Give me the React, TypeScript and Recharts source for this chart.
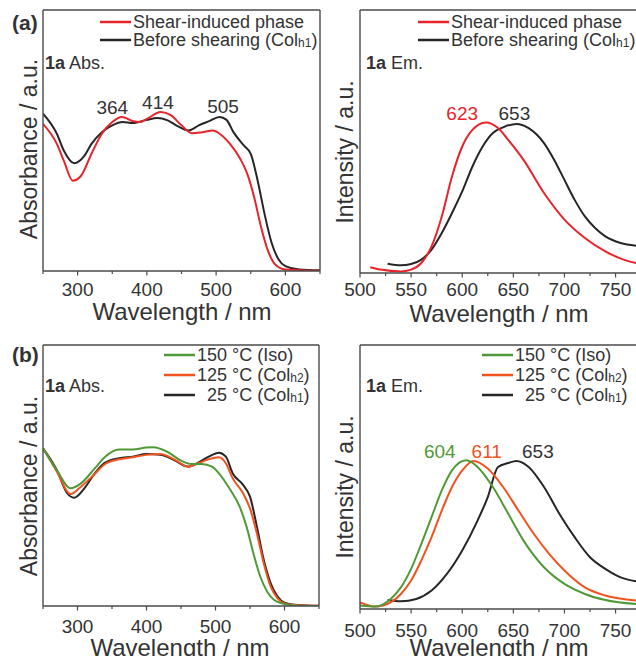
import React from "react";
import { LineChart, Line, XAxis, YAxis, ReferenceDot } from "recharts";

const FONT = '"Liberation Sans", Arial, Helvetica, sans-serif';
const INK = "#333333";
const AXC = "#4a4a4a";
const RED = "#e8232a";
const BLACK = "#262626";
const GREEN = "#4f9a36";
const ORANGE = "#f2521e";

type Pt = [number, number];

// (a) absorbance, wavelength nm -> relative absorbance (0-100 of panel height)
const absShear: Pt[] = [
  [250, 56.4], [270, 48.7], [280, 42.3], [293, 34.6], [305, 36.5], [320, 44.9], [335, 52.6],
  [350, 57.1], [364, 59.0], [380, 57.4], [390, 57.1], [400, 58.3], [420, 60.9], [435, 59.6],
  [450, 55.8], [465, 52.8], [480, 53.2], [495, 53.8], [505, 52.6], [520, 48.7], [535, 42.9],
  [545, 37.2], [555, 28.2], [565, 16.7], [575, 7.7], [585, 2.6], [600, 0.6], [620, 0.3], [650, 0.1],
];
const absBefore: Pt[] = [
  [250, 60.3], [270, 52.6], [280, 46.2], [295, 41.3], [310, 44.2], [320, 48.7], [335, 53.2],
  [350, 55.8], [365, 57.1], [380, 56.7], [400, 57.9], [415, 58.6], [430, 57.7], [445, 55.4],
  [460, 53.8], [475, 55.8], [490, 57.4], [505, 59.0], [515, 57.9], [525, 53.2], [540, 48.1],
  [550, 44.9], [560, 34.6], [570, 21.8], [580, 10.9], [590, 4.5], [600, 1.9], [620, 0.6], [650, 0.3],
];

// (a) emission
const emShear: Pt[] = [
  [510, 2.2], [520, 1.3], [540, 0.6], [550, 1.3], [560, 3.8], [570, 10.1], [580, 21.5],
  [590, 36.7], [600, 48.1], [610, 54.4], [623, 57.2], [635, 55.1], [645, 50.6], [660, 43.0],
  [680, 30.4], [700, 20.3], [720, 13.3], [740, 8.2], [760, 4.8], [770, 3.8],
];
const emBefore: Pt[] = [
  [527, 3.5], [540, 2.9], [550, 3.4], [560, 5.1], [570, 8.9], [580, 15.2], [590, 22.8],
  [600, 31.0], [610, 40.5], [620, 48.1], [630, 53.2], [640, 55.4], [653, 56.7], [665, 55.1],
  [680, 49.4], [690, 43.0], [700, 35.4], [710, 27.8], [720, 21.5], [730, 17.1], [740, 13.9],
  [755, 11.4], [770, 10.4],
];

// (b) absorbance
const abs150: Pt[] = [
  [250, 60.4], [270, 52.1], [290, 45.1], [305, 47.0], [325, 52.7], [340, 57.2], [360, 60.0],
  [380, 60.0], [400, 60.7], [410, 60.8], [430, 59.1], [450, 55.7], [465, 54.4], [480, 54.4],
  [495, 53.4], [505, 50.8], [520, 45.1], [535, 38.1], [545, 30.4], [555, 20.1], [565, 11.2],
  [575, 5.5], [585, 2.3], [600, 0.8], [620, 0.1], [650, 0],
];
const abs125: Pt[] = [
  [250, 60.4], [270, 51.5], [290, 42.9], [305, 45.7], [325, 50.6], [340, 54.4], [360, 56.2],
  [380, 57.0], [400, 57.9], [420, 58.2], [440, 56.2], [460, 53.4], [475, 54.7], [490, 56.2],
  [505, 57.0], [515, 54.7], [525, 48.9], [540, 43.2], [550, 37.4], [560, 27.8], [570, 16.3],
  [580, 7.4], [590, 2.9], [600, 1.0], [620, 0.3], [650, 0.1],
];
const abs25: Pt[] = [
  [250, 60.4], [270, 52.1], [285, 43.2], [295, 41.5], [310, 45.1], [325, 50.8], [340, 54.9],
  [360, 56.6], [380, 57.2], [400, 58.2], [420, 57.9], [440, 55.9], [460, 53.4], [475, 54.9],
  [490, 57.2], [505, 58.7], [515, 57.2], [525, 50.8], [540, 46.4], [550, 41.9], [560, 30.4],
  [570, 17.6], [580, 8.7], [590, 3.6], [600, 1.3], [620, 0.4], [650, 0.1],
];

// (b) emission
const em150: Pt[] = [
  [500, 1.3], [515, 0.9], [530, 3.8], [540, 8.2], [550, 15.2], [560, 24.7], [570, 34.8],
  [580, 44.9], [590, 52.5], [604, 56.3], [615, 53.8], [630, 46.2], [645, 36.1], [660, 25.9],
  [680, 15.8], [700, 9.5], [720, 5.7], [740, 3.4], [770, 1.9],
];
const em125: Pt[] = [
  [500, 2.5], [515, 0.9], [530, 2.5], [540, 5.7], [550, 10.8], [560, 18.4], [570, 27.2],
  [580, 37.3], [590, 46.2], [600, 52.5], [611, 56.1], [625, 53.2], [640, 46.2], [655, 37.3],
  [670, 28.5], [685, 20.9], [700, 14.6], [720, 8.2], [740, 5.1], [770, 3.2],
];
const em25: Pt[] = [
  [527, 3.4], [540, 2.9], [555, 3.8], [570, 7.0], [585, 13.3], [600, 22.2], [615, 33.5],
  [625, 42.4], [635, 53.8], [645, 55.3], [653, 56.1], [665, 53.8], [680, 46.2], [695, 36.1],
  [710, 27.2], [725, 19.6], [740, 15.2], [755, 12.0], [770, 10.5],
];

const absMajor = [300, 400, 500, 600];
const absTicks = [250, 300, 350, 400, 450, 500, 550, 600, 650];
const emMajor = [500, 550, 600, 650, 700, 750];
const emTicks = [500, 525, 550, 575, 600, 625, 650, 675, 700, 725, 750];

// peak labels: [label x (nm), label y (rel), text, colour]
const peaksAAbs: [number, number, string, string][] = [
  [350, 62.8, "364", INK], [416, 64.8, "414", INK], [510, 63.2, "505", INK],
];
const peaksAEm: [number, number, string, string][] = [
  [600, 60.8, "623", RED], [651, 60.8, "653", INK],
];
const peaksBEm: [number, number, string, string][] = [
  [578, 59.8, "604", GREEN], [624, 59.8, "611", ORANGE], [674, 59.8, "653", INK],
];

const toPts = (a: Pt[]) => a.map(([w, v]) => ({ w, v }));

const makeTick = (majors: number[], dy: number) => (props: any) => {
  const { x, y, payload } = props;
  const major = majors.includes(payload.value);
  return (
    <g>
      <line x1={x} x2={x} y1={y} y2={y + (major ? 4.5 : 3)} stroke={AXC} strokeWidth={1.2} />
      {major && (
        <text x={x} y={y + dy} textAnchor="middle" dominantBaseline="central" fontSize={19} fill={INK} fontFamily={FONT}>
          {payload.value}
        </text>
      )}
    </g>
  );
};

type Series = { pts: Pt[]; color: string };

function Panel({
  left, top, width, height, margin, domain, ticks, majors, dy, series, peaks, rightBorder,
}: {
  left: number; top: number; width: number; height: number;
  margin: { top: number; right: number; bottom: number; left: number };
  domain: [number, number]; ticks: number[]; majors: number[]; dy: number;
  series: Series[]; peaks: [number, number, string, string][]; rightBorder: boolean;
}) {
  const axisLine = { stroke: AXC, strokeWidth: 1.4 };
  return (
    <div style={{ position: "absolute", left, top }}>
      <LineChart width={width} height={height} margin={margin}>
        <XAxis
          dataKey="w" type="number" domain={domain} allowDataOverflow ticks={ticks} interval={0}
          height={1} tickSize={0} tickMargin={0} tickLine={false}
          axisLine={axisLine} tick={makeTick(majors, dy)}
        />
        <XAxis
          xAxisId="top" orientation="top" type="number" domain={domain} height={1}
          tick={false} tickLine={false} axisLine={axisLine}
        />
        <YAxis
          type="number" domain={[0, 100]} allowDataOverflow width={1} tick={false} tickLine={false}
          axisLine={axisLine}
        />
        {rightBorder && (
          <YAxis
            yAxisId="r" orientation="right" type="number" domain={[0, 100]} width={1}
            tick={false} tickLine={false} axisLine={axisLine}
          />
        )}
        {series.map((s, i) => (
          <Line
            key={i} data={toPts(s.pts)} dataKey="v" type="monotone" stroke={s.color}
            strokeWidth={2} dot={false} activeDot={false} isAnimationActive={false}
          />
        ))}
        {peaks.map(([x, y, t, c]) => (
          <ReferenceDot
            key={t + x} x={x} y={y} r={0} fill="none" stroke="none"
            label={{ value: t, position: "center", fill: c, fontSize: 19, fontFamily: FONT }}
          />
        ))}
      </LineChart>
    </div>
  );
}

function LegendRow({ x, y, color, indent = 0, children }: { x: number; y: number; color: string; indent?: number; children: React.ReactNode }) {
  return (
    <g>
      <line x1={x} x2={x + 31} y1={y} y2={y} stroke={color} strokeWidth={2.5} />
      <text x={x + 33 + indent} y={y} dominantBaseline="central" fontSize={18} fill={INK}>
        {children}
      </text>
    </g>
  );
}

const Col = ({ sub }: { sub: string }) => (
  <>
    Col<tspan fontSize={12} dy={3}>{sub}</tspan><tspan dy={-3}>)</tspan>
  </>
);

export default function App() {
  return (
    <div style={{ position: "absolute", left: 0, top: 0, width: 636, height: 656, background: "#fff", fontFamily: FONT }}>
      <Panel
        left={0} top={0} width={330} height={330} margin={{ top: 9, right: 9, bottom: 58, left: 42 }}
        domain={[250, 650]} ticks={absTicks} majors={absMajor} dy={18}
        series={[{ pts: absBefore, color: BLACK }, { pts: absShear, color: RED }]}
        peaks={peaksAAbs} rightBorder
      />
      <Panel
        left={330} top={0} width={306} height={330} margin={{ top: 9, right: 0, bottom: 56, left: 29 }}
        domain={[500, 770]} ticks={emTicks} majors={emMajor} dy={16}
        series={[{ pts: emBefore, color: BLACK }, { pts: emShear, color: RED }]}
        peaks={peaksAEm} rightBorder={false}
      />
      <Panel
        left={0} top={330} width={330} height={326} margin={{ top: 14, right: 10, bottom: 49, left: 42 }}
        domain={[250, 650]} ticks={absTicks} majors={absMajor} dy={20}
        series={[{ pts: abs25, color: BLACK }, { pts: abs125, color: ORANGE }, { pts: abs150, color: GREEN }]}
        peaks={[]} rightBorder
      />
      <Panel
        left={330} top={330} width={306} height={326} margin={{ top: 14, right: 0, bottom: 46, left: 29 }}
        domain={[500, 770]} ticks={emTicks} majors={emMajor} dy={21}
        series={[{ pts: em25, color: BLACK }, { pts: em125, color: ORANGE }, { pts: em150, color: GREEN }]}
        peaks={peaksBEm} rightBorder={false}
      />

      <svg width={636} height={656} style={{ position: "absolute", left: 0, top: 0, pointerEvents: "none" }} fontFamily={FONT}>
        <text x={12} y={22} dominantBaseline="central" fontSize={21} fontWeight="bold" fill={INK}>(a)</text>
        <text x={12} y={354} dominantBaseline="central" fontSize={21} fontWeight="bold" fill={INK}>(b)</text>

        <text x={45} y={63} dominantBaseline="central" fontSize={18} fill={INK}><tspan fontWeight="bold">1a</tspan> Abs.</text>
        <text x={366} y={63} dominantBaseline="central" fontSize={18} fill={INK}><tspan fontWeight="bold">1a</tspan> Em.</text>
        <text x={45} y={386} dominantBaseline="central" fontSize={18} fill={INK}><tspan fontWeight="bold">1a</tspan> Abs.</text>
        <text x={366} y={386} dominantBaseline="central" fontSize={18} fill={INK}><tspan fontWeight="bold">1a</tspan> Em.</text>

        <LegendRow x={100} y={22} color={RED}>Shear-induced phase</LegendRow>
        <LegendRow x={100} y={40} color={BLACK}>Before shearing (<Col sub="h1" /></LegendRow>
        <LegendRow x={418} y={22} color={RED}>Shear-induced phase</LegendRow>
        <LegendRow x={418} y={40} color={BLACK}>Before shearing (<Col sub="h1" /></LegendRow>

        <LegendRow x={164} y={355} color={GREEN}>150 °C (Iso)</LegendRow>
        <LegendRow x={164} y={375} color={ORANGE}>125 °C (<Col sub="h2" /></LegendRow>
        <LegendRow x={164} y={395} color={BLACK} indent={10}>25 °C (<Col sub="h1" /></LegendRow>
        <LegendRow x={482} y={355} color={GREEN}>150 °C (Iso)</LegendRow>
        <LegendRow x={482} y={375} color={ORANGE}>125 °C (<Col sub="h2" /></LegendRow>
        <LegendRow x={482} y={395} color={BLACK} indent={10}>25 °C (<Col sub="h1" /></LegendRow>

        <text x={182} y={311} textAnchor="middle" dominantBaseline="central" fontSize={24} fill={INK}>Wavelength / nm</text>
        <text x={499} y={313} textAnchor="middle" dominantBaseline="central" fontSize={24} fill={INK}>Wavelength / nm</text>
        <text x={180} y={647} textAnchor="middle" dominantBaseline="central" fontSize={24} fill={INK}>Wavelength / nm</text>
        <text x={499} y={647} textAnchor="middle" dominantBaseline="central" fontSize={24} fill={INK}>Wavelength / nm</text>

        <text transform="translate(29,149) rotate(-90)" textAnchor="middle" dominantBaseline="central" fontSize={23} fill={INK}>Absorbance / a.u.</text>
        <text transform="translate(345,152) rotate(-90)" textAnchor="middle" dominantBaseline="central" fontSize={23} fill={INK}>Intensity / a.u.</text>
        <text transform="translate(29,486) rotate(-90)" textAnchor="middle" dominantBaseline="central" fontSize={23} fill={INK}>Absorbance / a.u.</text>
        <text transform="translate(345,487) rotate(-90)" textAnchor="middle" dominantBaseline="central" fontSize={23} fill={INK}>Intensity / a.u.</text>
      </svg>
    </div>
  );
}
